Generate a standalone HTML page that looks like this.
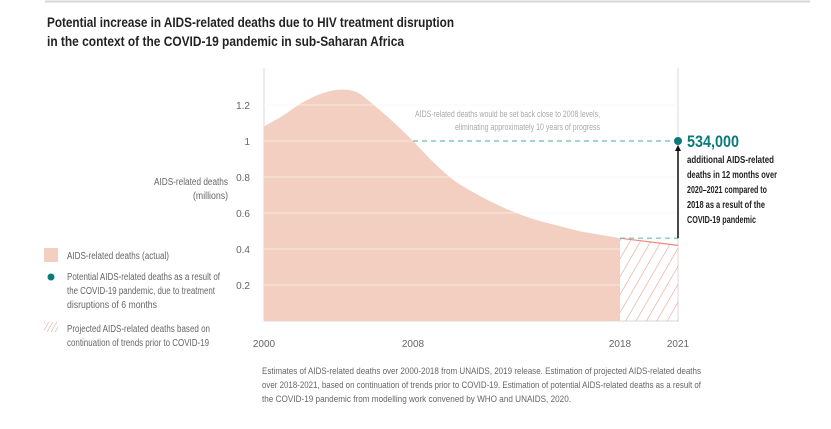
<!DOCTYPE html>
<html><head><meta charset="utf-8"><style>
html,body{margin:0;padding:0;background:#fff;}
svg{display:block;font-family:"Liberation Sans",sans-serif;}
</style></head><body>
<svg width="831" height="429" viewBox="0 0 831 429">
<defs>
<pattern id="hatch" patternUnits="userSpaceOnUse" width="9" height="9" patternTransform="rotate(30)">
<line x1="0" y1="0" x2="0" y2="9" stroke="#e8998a" stroke-width="1.1"/>
</pattern>
<pattern id="hatch2" patternUnits="userSpaceOnUse" width="3.5" height="3.5" patternTransform="rotate(30)">
<line x1="0" y1="0" x2="0" y2="3.5" stroke="#e8998a" stroke-width="1"/>
</pattern>
</defs>
<line x1="45" y1="1.5" x2="810" y2="1.5" stroke="#d6d6d6" stroke-width="2"/>
<text x="47" y="27" font-size="13.5" font-weight="bold" fill="#222" textLength="407" lengthAdjust="spacingAndGlyphs">Potential increase in AIDS-related deaths due to HIV treatment disruption</text>
<text x="47" y="46" font-size="13.5" font-weight="bold" fill="#222" textLength="357" lengthAdjust="spacingAndGlyphs">in the context of the COVID-19 pandemic in sub-Saharan Africa</text>
<g id="plot"></g>
<text x="228" y="185" font-size="10" fill="#666" text-anchor="end" textLength="74" lengthAdjust="spacingAndGlyphs">AIDS-related deaths</text>
<text x="228" y="199" font-size="10" fill="#666" text-anchor="end" textLength="35" lengthAdjust="spacingAndGlyphs">(millions)</text>
<rect x="44" y="248" width="14" height="14" fill="#f2cfc1"/>
<text x="67" y="259" font-size="10" fill="#666" textLength="102" lengthAdjust="spacingAndGlyphs">AIDS-related deaths (actual)</text>
<circle cx="51" cy="277" r="3.5" fill="#0b7b7a"/>
<text x="67" y="280" font-size="10" fill="#666" textLength="153" lengthAdjust="spacingAndGlyphs">Potential AIDS-related deaths as a result of</text>
<text x="67" y="294" font-size="10" fill="#666" textLength="148" lengthAdjust="spacingAndGlyphs">the COVID-19 pandemic, due to treatment</text>
<text x="67" y="308" font-size="10" fill="#666" textLength="90" lengthAdjust="spacingAndGlyphs">disruptions of 6 months</text>
<rect x="44" y="322" width="14" height="10" fill="url(#hatch2)"/>
<text x="67" y="332" font-size="10" fill="#666" textLength="143" lengthAdjust="spacingAndGlyphs">Projected AIDS-related deaths based on</text>
<text x="67" y="346" font-size="10" fill="#666" textLength="142" lengthAdjust="spacingAndGlyphs">continuation of trends prior to COVID-19</text>
<text x="600" y="117" font-size="9" fill="#aaa" text-anchor="end" textLength="185" lengthAdjust="spacingAndGlyphs">AIDS-related deaths would be set back close to 2008 levels,</text>
<text x="600" y="130" font-size="9" fill="#aaa" text-anchor="end" textLength="145" lengthAdjust="spacingAndGlyphs">eliminating approximately 10 years of progress</text>
<text x="687" y="147" font-size="17" font-weight="bold" fill="#0b7b7a" textLength="52" lengthAdjust="spacingAndGlyphs">534,000</text>
<g font-size="10" font-weight="bold" fill="#222">
<text x="687" y="163" textLength="87" lengthAdjust="spacingAndGlyphs">additional AIDS-related</text>
<text x="687" y="178" textLength="90" lengthAdjust="spacingAndGlyphs">deaths in 12 months over</text>
<text x="687" y="193" textLength="80" lengthAdjust="spacingAndGlyphs">2020–2021 compared to</text>
<text x="687" y="208" textLength="78" lengthAdjust="spacingAndGlyphs">2018 as a result of the</text>
<text x="687" y="223" textLength="69" lengthAdjust="spacingAndGlyphs">COVID-19 pandemic</text>
</g>
<g font-size="9.5" fill="#666">
<text x="262" y="374" textLength="439" lengthAdjust="spacingAndGlyphs">Estimates of AIDS-related deaths over 2000-2018 from UNAIDS, 2019 release. Estimation of projected AIDS-related deaths</text>
<text x="262" y="388" textLength="439" lengthAdjust="spacingAndGlyphs">over 2018-2021, based on continuation of trends prior to COVID-19. Estimation of potential AIDS-related deaths as a result of</text>
<text x="262" y="402" textLength="309" lengthAdjust="spacingAndGlyphs">the COVID-19 pandemic from modelling work convened by WHO and UNAIDS, 2020.</text>
</g>
</svg>
<script>
const years = [2000,2001,2002,2003,2004,2005,2006,2007,2008,2009,2010,2011,2012,2013,2014,2015,2016,2017,2018];
const actualDeaths = [1.08,1.14,1.21,1.26,1.285,1.27,1.19,1.10,1.0,0.88,0.78,0.71,0.65,0.60,0.56,0.53,0.50,0.48,0.46];
const projectedYears = [2018,2021];
const projectedDeaths = [0.46,0.42];
const potentialYear = 2021;
const potentialDeaths = 1.0;
const yTicks = [0.2,0.4,0.6,0.8,1,1.2];
const yTickLabels = ["0.2","0.4","0.6","0.8","1","1.2"];
const xTicks = [2000,2008,2018,2021];
const xTickLabels = ["2000","2008","2018","2021"];

const NS="http://www.w3.org/2000/svg";
const plot=document.getElementById('plot');
const knotsY=[2000,2008,2018,2021], knotsX=[264,413,620,678];
function x(yr){for(let i=0;i<knotsY.length-1;i++){if(yr<=knotsY[i+1]||i==knotsY.length-2){const t=(yr-knotsY[i])/(knotsY[i+1]-knotsY[i]);return knotsX[i]+t*(knotsX[i+1]-knotsX[i]);}}}
function y(v){return 321-180*v;}
function mk(tag,attrs){const e=document.createElementNS(NS,tag);for(const k in attrs)e.setAttribute(k,attrs[k]);plot.appendChild(e);return e;}

const frame=mk('path',{d:`M264 68 V321 H678 V68`,fill:'none',stroke:'#e6e6e6','stroke-width':1.5});



function smooth(pts){let d=`M${pts[0][0]} ${pts[0][1]}`;for(let i=0;i<pts.length-1;i++){const p0=pts[i-1]||pts[i],p1=pts[i],p2=pts[i+1],p3=pts[i+2]||p2;const c1=[p1[0]+(p2[0]-p0[0])/6,p1[1]+(p2[1]-p0[1])/6],c2=[p2[0]-(p3[0]-p1[0])/6,p2[1]-(p3[1]-p1[1])/6];d+=` C${c1[0]} ${c1[1]} ${c2[0]} ${c2[1]} ${p2[0]} ${p2[1]}`;}return d;}
const pts=years.map((yr,i)=>[x(yr),y(actualDeaths[i])]);
const area=mk('path',{d:smooth(pts)+` L${x(years[years.length-1])} ${y(0)} L${x(years[0])} ${y(0)} Z`,fill:'#f2cfc1'});



yTicks.forEach((t,i)=>{
  const g=mk('line',{x1:264,x2:678,y1:y(t),y2:y(t),stroke:'#fff','stroke-opacity':0.5,'stroke-width':1});
  
  
  const lb=mk('text',{x:250,y:y(t)+4,'font-size':10,fill:'#666','text-anchor':'end'});
  lb.textContent=yTickLabels[i];
  
  
});
yTicks.forEach(t=>{const g=mk('line',{x1:264,x2:678,y1:y(t),y2:y(t),stroke:'#f0f0f0','stroke-width':1});plot.insertBefore(g,area);});

const hx0=x(projectedYears[0]),hx1=x(projectedYears[1]);
const proj=mk('path',{d:`M${hx0} ${y(projectedDeaths[0])} L${hx1} ${y(projectedDeaths[1])} L${hx1} ${y(0)} L${hx0} ${y(0)} Z`,fill:'url(#hatch)'});


const projLine=mk('line',{x1:hx0,y1:y(projectedDeaths[0]),x2:hx1,y2:y(projectedDeaths[1]),stroke:'#e8897a','stroke-width':1.2});



const d1=mk('line',{x1:x(2008),x2:x(potentialYear),y1:y(potentialDeaths),y2:y(potentialDeaths),stroke:'#6bbab5','stroke-width':1.2,'stroke-dasharray':'5 4'});


const d2=mk('line',{x1:hx0,x2:hx1,y1:y(projectedDeaths[0]),y2:y(projectedDeaths[0]),stroke:'#6bbab5','stroke-width':1.2,'stroke-dasharray':'5 4'});


const arr=mk('line',{x1:hx1,x2:hx1,y1:y(projectedDeaths[0]),y2:y(potentialDeaths)+7,stroke:'#111','stroke-width':1.5});


const head=mk('path',{d:`M${hx1-3} ${y(potentialDeaths)+10} L${hx1} ${y(potentialDeaths)+4} L${hx1+3} ${y(potentialDeaths)+10} Z`,fill:'#111'});


const dot=mk('circle',{cx:x(potentialYear),cy:y(potentialDeaths),r:4,fill:'#0b7b7a'});



xTicks.forEach((t,i)=>{
  const lb=mk('text',{x:x(t),y:347,'font-size':10,fill:'#666','text-anchor':'middle'});
  lb.textContent=xTickLabels[i];
  
  
});
</script>
</body></html>
